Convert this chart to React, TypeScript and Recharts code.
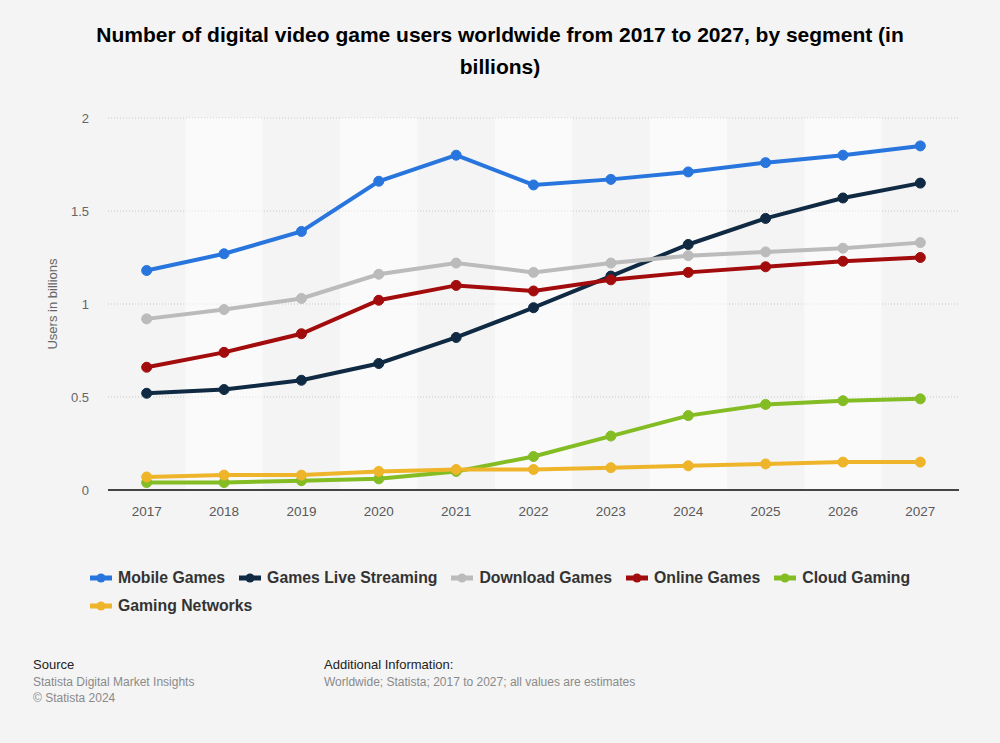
import React from 'react';
import {
  LineChart,
  Line,
  XAxis,
  YAxis,
  CartesianGrid,
  ReferenceArea,
} from 'recharts';

const years = [2017, 2018, 2019, 2020, 2021, 2022, 2023, 2024, 2025, 2026, 2027];
const mobileGames = [1.18, 1.27, 1.39, 1.66, 1.8, 1.64, 1.67, 1.71, 1.76, 1.8, 1.85];
const gamesLiveStreaming = [0.52, 0.54, 0.59, 0.68, 0.82, 0.98, 1.15, 1.32, 1.46, 1.57, 1.65];
const downloadGames = [0.92, 0.97, 1.03, 1.16, 1.22, 1.17, 1.22, 1.26, 1.28, 1.3, 1.33];
const onlineGames = [0.66, 0.74, 0.84, 1.02, 1.1, 1.07, 1.13, 1.17, 1.2, 1.23, 1.25];
const cloudGaming = [0.04, 0.04, 0.05, 0.06, 0.1, 0.18, 0.29, 0.4, 0.46, 0.48, 0.49];
const gamingNetworks = [0.07, 0.08, 0.08, 0.1, 0.11, 0.11, 0.12, 0.13, 0.14, 0.15, 0.15];
const yTicks = [0, 0.5, 1, 1.5, 2];

const series = [
  { key: 'mobile', name: 'Mobile Games', color: '#2876dd', values: mobileGames },
  { key: 'streaming', name: 'Games Live Streaming', color: '#0f2a42', values: gamesLiveStreaming },
  { key: 'download', name: 'Download Games', color: '#bbbbbb', values: downloadGames },
  { key: 'online', name: 'Online Games', color: '#a30c0c', values: onlineGames },
  { key: 'cloud', name: 'Cloud Gaming', color: '#84bc24', values: cloudGaming },
  { key: 'networks', name: 'Gaming Networks', color: '#efb52a', values: gamingNetworks },
];

const data = years.map((year, i) => {
  const row: Record<string, number> = { year };
  series.forEach((s) => {
    row[s.key] = s.values[i];
  });
  return row;
});

// lighter column bands on every second year
const bands = years.filter((_, i) => i % 2 === 1);

const font = '"Liberation Sans", Arial, Helvetica, sans-serif';

const LegendIcon = ({ color }: { color: string }) => (
  <svg width={22} height={12} style={{ marginRight: 6, flexShrink: 0 }}>
    <line x1={0} y1={6} x2={22} y2={6} stroke={color} strokeWidth={5} />
    <circle cx={11} cy={6} r={4.5} fill={color} />
  </svg>
);

export default function App() {
  return (
    <div
      style={{
        position: 'relative',
        width: 1000,
        height: 743,
        background: '#f4f4f4',
        fontFamily: font,
        overflow: 'hidden',
      }}
    >
      <style>{'body{margin:0}'}</style>
      <div
        style={{
          position: 'absolute',
          top: 19,
          left: 80,
          width: 840,
          textAlign: 'center',
          fontSize: 21,
          fontWeight: 'bold',
          lineHeight: '32px',
          color: '#000',
        }}
      >
        Number of digital video game users worldwide from 2017 to 2027, by segment (in billions)
      </div>

      <div style={{ position: 'absolute', top: 0, left: 0 }}>
        <LineChart
          width={1000}
          height={530}
          data={data}
          margin={{ top: 118, right: 41, left: 0, bottom: 10 }}
        >
          {bands.map((y) => (
            <ReferenceArea
              key={y}
              x1={y - 0.5}
              x2={y + 0.5}
              y1={0}
              y2={2}
              fill="#ffffff"
              fillOpacity={0.5}
              stroke="none"
              ifOverflow="visible"
            />
          ))}
          <CartesianGrid
            vertical={false}
            stroke="#c8c8c8"
            strokeDasharray="1 2"
          />
          <XAxis
            dataKey="year"
            type="number"
            domain={[2016.5, 2027.5]}
            ticks={years}
            height={30}
            tickLine={false}
            tickMargin={10}
            axisLine={{ stroke: '#444', strokeWidth: 2 }}
            tick={{ fill: '#595959', fontSize: 13.5, fontFamily: font }}
          />
          <YAxis
            domain={[0, 2]}
            ticks={yTicks}
            width={108}
            axisLine={false}
            tickLine={false}
            tickMargin={13}
            tick={{ fill: '#666', fontSize: 13, fontFamily: font }}
            label={{
              value: 'Users in billions',
              angle: -90,
              position: 'center',
              fill: '#666',
              fontSize: 13,
              fontFamily: font,
              dx: -2,
            }}
          />
          {series.map((s) => (
            <Line
              key={s.key}
              dataKey={s.key}
              name={s.name}
              stroke={s.color}
              strokeWidth={4}
              dot={{ r: 5, fill: s.color, stroke: s.color, strokeWidth: 1 }}
              activeDot={false}
              isAnimationActive={false}
            />
          ))}
        </LineChart>
      </div>

      <div
        style={{
          position: 'absolute',
          top: 564,
          left: 90,
          width: 840,
          display: 'flex',
          flexWrap: 'wrap',
          columnGap: 14,
          rowGap: 0,
        }}
      >
        {series.map((s) => (
          <div
            key={s.key}
            style={{
              display: 'flex',
              alignItems: 'center',
              height: 28,
              fontSize: 15.8,
              fontWeight: 'bold',
              color: '#333',
            }}
          >
            <LegendIcon color={s.color} />
            {s.name}
          </div>
        ))}
      </div>

      <div style={{ position: 'absolute', top: 657, left: 33, fontSize: 12, lineHeight: '16.5px' }}>
        <div style={{ color: '#222', fontSize: 13 }}>Source</div>
        <div style={{ color: '#8a8a8a' }}>Statista Digital Market Insights</div>
        <div style={{ color: '#8a8a8a' }}>© Statista 2024</div>
      </div>
      <div style={{ position: 'absolute', top: 657, left: 324, fontSize: 12, lineHeight: '16.5px' }}>
        <div style={{ color: '#222', fontSize: 13 }}>Additional Information:</div>
        <div style={{ color: '#8a8a8a' }}>Worldwide; Statista; 2017 to 2027; all values are estimates</div>
      </div>
    </div>
  );
}
